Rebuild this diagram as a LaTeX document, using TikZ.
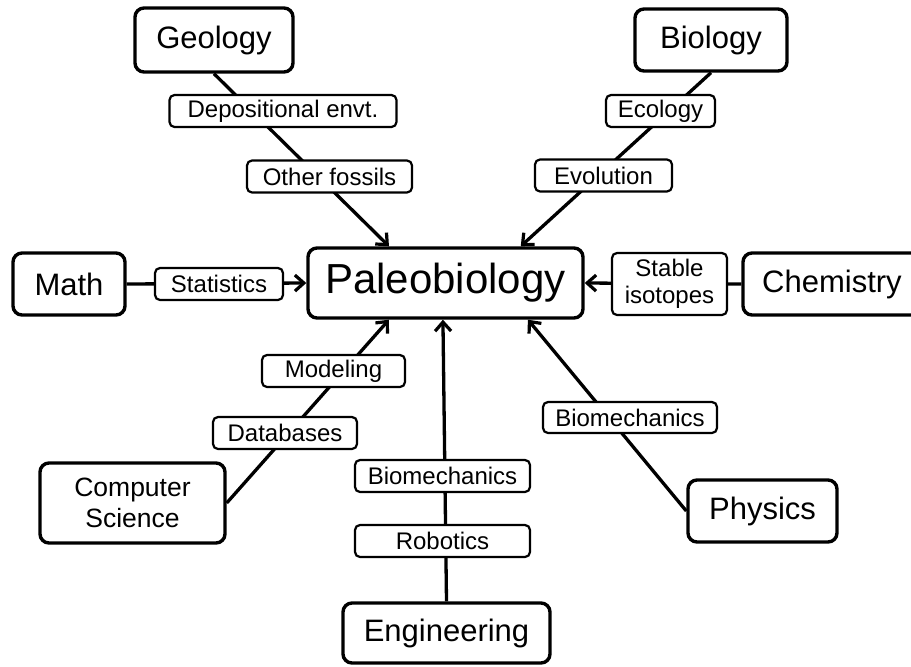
\documentclass[tikz,border=0pt]{standalone}
\usepackage{fontspec}
\setmainfont{Liberation Sans}
\usepackage{tikz}
\usetikzlibrary{arrows.meta}

\begin{document}
\begin{tikzpicture}[->, >={Straight Barb[length=9pt,width=16pt,line width=3.2pt]}, line width=3.3pt, x=1pt, y=-1pt]
			\tikzstyle{field}=[draw, rounded corners=9pt, line width=3.4pt, inner sep=0pt, align=center, minimum height=62pt, font=\fontsize{31}{35}\selectfont]
			\tikzstyle{topic}=[draw, fill=white, rounded corners=5pt, line width=2.2pt, inner sep=0pt, align=center, minimum height=32pt, font=\fontsize{24}{27}\selectfont]
			\useasboundingbox (0,0) rectangle (911,667);
			
			\node[field, minimum width=275pt, minimum height=70pt, font=\fontsize{42}{46}\selectfont] (Pal) at (445.5,283) {Paleobiology};
			\node[field, minimum width=158pt, minimum height=64pt] (Geo) at (214,40) {Geology};
			\node[field, minimum width=152pt] (Bio) at (711,40) {Biology};
			\node[field, minimum width=112pt] (Math) at (69,284) {Math};
			\node[field, minimum width=178pt] (Chem) at (832,284) {Chemistry};
			\node[field, minimum width=185pt, minimum height=80pt, font=\fontsize{26.5}{31}\selectfont] (CS) at (132.5,503) {Computer\\Science};
			\node[field, minimum width=207pt, minimum height=60pt] (Eng) at (446.5,633) {Engineering};
			\node[field, minimum width=149pt] (Phys) at (762.5,511) {Physics};
			
			\path
			(Geo.south) edge (Pal.147)
			(Bio.south) edge (Pal.26)
			(Math.east) edge (Pal.west)
			(Chem.west) edge (Pal.east)
			(CS.east) edge (Pal.213)
			(Eng.north) edge (Pal.266)
			(Phys.west) edge (Pal.336);
			
			\node[topic, minimum width=227pt] (Dep) at (283,111) {Depositional envt.};
			\node[topic, minimum width=165pt] (Oth) at (329.5,176.5) {Other fossils};
			\node[topic, minimum width=109pt] (Eco) at (660.5,111) {Ecology};
			\node[topic, minimum width=137pt] (Evo) at (603.5,175.5) {Evolution};
			\node[topic, minimum width=128pt] (Sta) at (219,284) {Statistics};
			\node[topic, minimum width=115pt, minimum height=62pt] (Iso) at (669.5,284) {Stable\\isotopes};
			\node[topic, minimum width=143pt] (Mod) at (333.5,371) {Modeling};
			\node[topic, minimum width=144pt] (Dat) at (285,433) {Databases};
			\node[topic, minimum width=175pt] (MechE) at (442.5,476) {Biomechanics};
			\node[topic, minimum width=175pt] (Rob) at (442.5,541) {Robotics};
			\node[topic, minimum width=174pt, minimum height=31pt] (MechP) at (630,417.5) {Biomechanics};
		\end{tikzpicture}
\end{document}
